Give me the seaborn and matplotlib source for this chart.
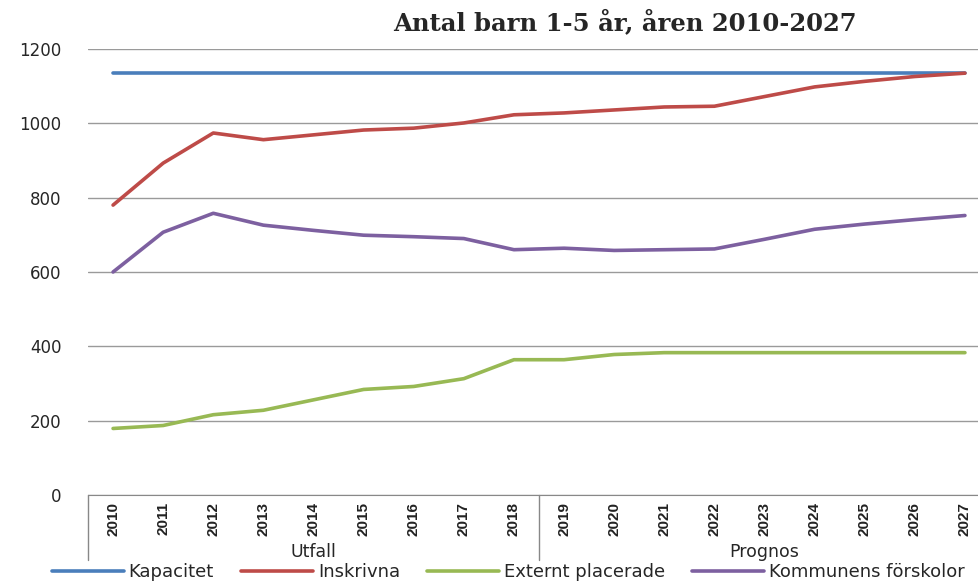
import matplotlib
matplotlib.use("Agg")
import matplotlib.pyplot as plt
import seaborn as sns
import pandas as pd

# Data
years = list(range(2010, 2028))
kapacitet = [1135] * 18
inskrivna = [780, 893, 974, 956, 969, 982, 987, 1001, 1023, 1028, 1036, 1044, 1046,
             1072, 1098, 1113, 1126, 1135]
externt = [179, 187, 216, 228, 256, 284, 292, 313, 364, 364, 378, 383, 383,
           383, 383, 383, 383, 383]
kommunens = [600, 707, 758, 726, 712, 699, 695, 690, 660, 664, 658, 660, 662,
             688, 715, 729, 741, 752]
series_names = ["Kapacitet", "Inskrivna", "Externt placerade", "Kommunens förskolor"]
groups = ["Utfall", "Prognos"]
n_utfall = 9

colors = ["#4A7EBB", "#BE4B48", "#98B954", "#7D60A0"]

rows = []
for name, vals in zip(series_names, [kapacitet, inskrivna, externt, kommunens]):
    for i, v in enumerate(vals):
        rows.append({"pos": i, "serie": name, "antal": v})
df = pd.DataFrame(rows)

sns.set_style("white")
plt.rcParams['font.family'] = ['DejaVu Sans']

W, H = 979, 585
fig = plt.figure(figsize=(W / 100, H / 100), dpi=100)
ax = fig.add_axes([88 / W, 1 - 495 / H, (990 - 88) / W, (495 - 49) / H])

sns.lineplot(data=df, x="pos", y="antal", hue="serie", hue_order=series_names,
             palette=colors, linewidth=2.6, ax=ax, legend=False)

ax.set_xlim(-0.5, len(years) - 0.5)
ax.set_ylim(0, 1200)
ax.set_yticks(range(0, 1201, 200))
ax.yaxis.grid(True, color="#9a9a9a", linewidth=1)
ax.set_axisbelow(True)
ax.tick_params(axis="y", length=0, labelsize=12, pad=19)
ax.set_xticks([])
ax.set_xlabel("")
ax.set_ylabel("")
for s in ["top", "right", "left"]:
    ax.spines[s].set_visible(False)
ax.spines["bottom"].set_color("#888888")

# year labels + group labels
for i, y in enumerate(years):
    ax.text(i, -0.016, str(y), transform=ax.get_xaxis_transform(), rotation=90,
            ha="center", va="top", fontsize=11, fontweight="bold", color="#222222",
            family=['Liberation Sans Narrow', 'Liberation Sans'])
for xb in [-0.5, n_utfall - 0.5]:
    ax.plot([xb, xb], [0, -0.146], transform=ax.get_xaxis_transform(),
            color="#888888", linewidth=1, clip_on=False)
ax.text((n_utfall - 1) / 2, -0.128, groups[0], transform=ax.get_xaxis_transform(),
        ha="center", va="center", fontsize=12.5)
ax.text(n_utfall + (len(years) - n_utfall - 1) / 2, -0.128, groups[1],
        transform=ax.get_xaxis_transform(), ha="center", va="center", fontsize=12.5)

fig.text(625 / W, 1 - 22 / H, "Antal barn 1-5 år, åren 2010-2027", ha="center",
         va="center", fontsize=17.5, fontweight="bold",
         family=['DejaVu Serif'])

handles = [plt.Line2D([], [], color=c, linewidth=2.6) for c in colors]
fig.legend(handles, series_names, loc="center left", bbox_to_anchor=(52 / W, 1 - 572 / H),
           ncol=4, frameon=False, fontsize=13, handlelength=4.0, handletextpad=0.25,
           columnspacing=1.5, borderaxespad=0, borderpad=0)

fig.savefig("out.png", dpi=100)
